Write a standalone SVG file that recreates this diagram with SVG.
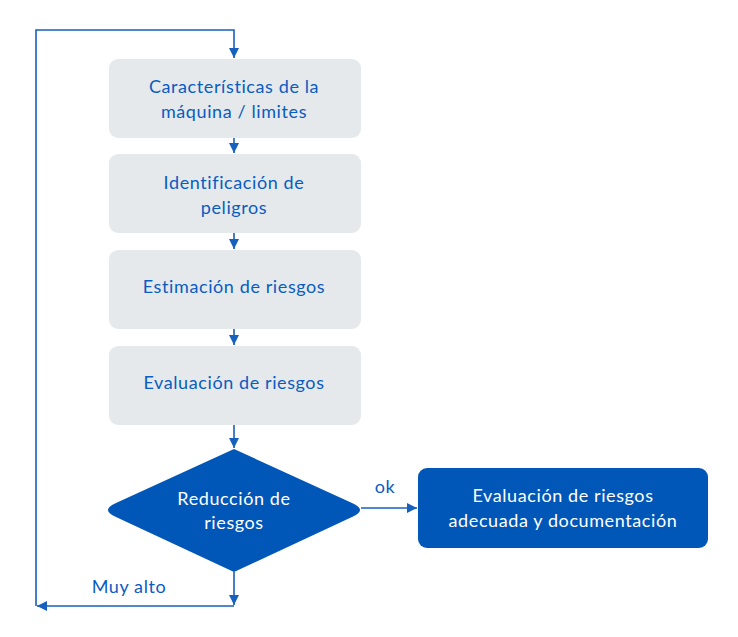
<svg xmlns="http://www.w3.org/2000/svg" width="738" height="637" viewBox="0 0 738 637">
<defs>
<style>
.box{fill:#e5e9ec}
.dark{fill:#0057b8}
.t{font-family:Lato,"Open Sans","Liberation Sans",sans-serif;font-size:18px;letter-spacing:0.6px;text-anchor:middle;fill:#0a5cc0}
.tw{font-family:Lato,"Open Sans","Liberation Sans",sans-serif;font-size:18px;letter-spacing:0.6px;text-anchor:middle;fill:#ffffff}
.c{fill:none;stroke:#1660be;stroke-width:1.6}
</style>
<marker id="ah" viewBox="0 0 10 10" refX="10" refY="5" markerWidth="10" markerHeight="10" markerUnits="userSpaceOnUse" orient="auto">
<path d="M0,0 L10,5 L0,10 Z" fill="#1660be"/>
</marker>
</defs>
<rect width="738" height="637" fill="#ffffff"/>
<g id="connectors">
<path class="c" d="M234,572 L234,605" marker-end="url(#ah)"/>
<path class="c" d="M234,606 L37,606" marker-end="url(#ah)"/>
<path class="c" d="M36,606 L36,30 L234,30 L234,58" marker-end="url(#ah)"/>
<path class="c" d="M234,138 L234,153" marker-end="url(#ah)"/>
<path class="c" d="M234,233 L234,249" marker-end="url(#ah)"/>
<path class="c" d="M234,329 L234,345" marker-end="url(#ah)"/>
<path class="c" d="M234,425 L234,448" marker-end="url(#ah)"/>
<path class="c" d="M361,508 L417,508" marker-end="url(#ah)"/>
<text class="t" x="385" y="493">ok</text>
<text class="t" x="129" y="593">Muy alto</text>
</g>
<g id="n1">
<rect class="box" x="109" y="59" width="252" height="79" rx="9"/>
<text class="t" x="234" y="93">Características de la</text>
<text class="t" x="234" y="118">máquina / limites</text>
</g>
<g id="n2">
<rect class="box" x="109" y="154" width="252" height="79" rx="9"/>
<text class="t" x="234" y="189">Identificación de</text>
<text class="t" x="234" y="214">peligros</text>
</g>
<g id="n3">
<rect class="box" x="109" y="250" width="252" height="79" rx="9"/>
<text class="t" x="234" y="293">Estimación de riesgos</text>
</g>
<g id="n4">
<rect class="box" x="109" y="346" width="252" height="79" rx="9"/>
<text class="t" x="234" y="389">Evaluación de riesgos</text>
</g>
<g id="n5">
<path class="dark" d="M234,449 L352,503 Q368,510 352,517 L234,572 L116,517 Q100,510 116,503 Z"/>
<text class="tw" x="234" y="505">Reducción de</text>
<text class="tw" x="234" y="529">riesgos</text>
</g>
<g id="n6">
<rect class="dark" x="418" y="468" width="290" height="80" rx="9"/>
<text class="tw" x="563" y="502">Evaluación de riesgos</text>
<text class="tw" x="563" y="527">adecuada y documentación</text>
</g>
</svg>
